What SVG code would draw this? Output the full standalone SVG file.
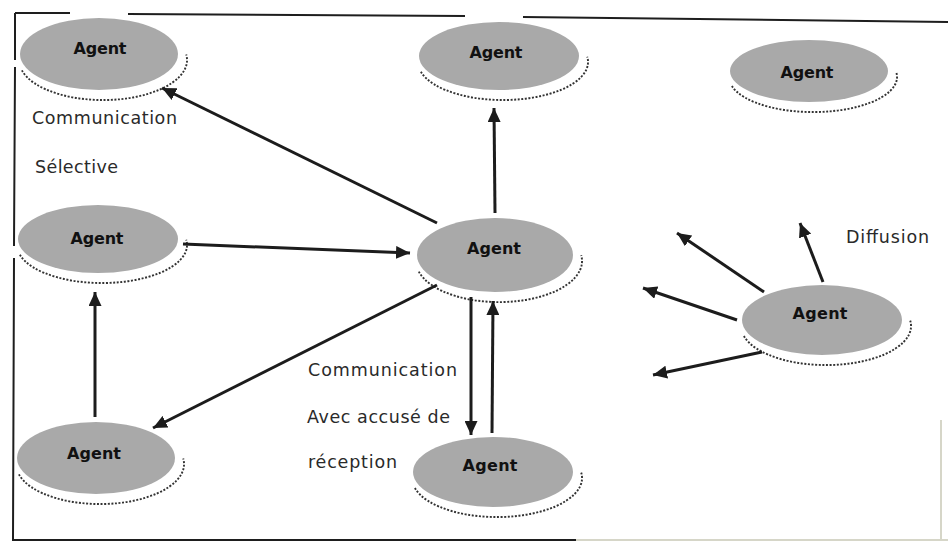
<svg xmlns="http://www.w3.org/2000/svg" width="948" height="546" viewBox="0 0 948 546">
  <style>
    .frame { stroke: #1e1e1e; stroke-width: 2; fill: none; }
    .frame-faint { stroke: #d6d6c8; stroke-width: 2; fill: none; }
    .body { fill: #a9a9a9; }
    .shadow { fill: none; stroke: #333; stroke-width: 1.9; stroke-dasharray: 2 1.6; }
    .name { font-family: "DejaVu Sans", "Liberation Sans", sans-serif; font-size: 16px; font-weight: bold; fill: #111; text-anchor: middle; }
    .label { font-family: "DejaVu Sans", "Liberation Sans", sans-serif; font-size: 17.5px; fill: #2a2a2a; }
    .link { stroke: #1c1c1c; stroke-width: 3; fill: none; marker-end: url(#head); }
  </style>
  <defs>
    <marker id="head" markerUnits="userSpaceOnUse" markerWidth="15" markerHeight="13" refX="14" refY="6.5" orient="auto">
      <path d="M0,0 L14,6.5 L0,13 Z" fill="#1c1c1c"/>
    </marker>
  </defs>

  <rect width="948" height="546" fill="#ffffff"/>

  <!-- outer frame, broken where shapes cross it -->
  <g id="frame">
    <path class="frame" d="M15,13 L70,13 M128,14 L465,16 M523,17 L948,22"/>
    <path class="frame" d="M15,13 L15,60 M15,67 L14,246 M14,258 L13,540 L576,540"/>
    <path class="frame-faint" d="M576,540 L948,540 M941,420 L941,540"/>
  </g>

  <!-- agents -->
  <g id="agent-top-left" transform="translate(99,54)">
    <path class="shadow" d="M-77.1,16.4 A84,40 0 0 0 87.2,0.4"/>
    <ellipse class="body" rx="79" ry="36"/>
    <text class="name" x="1" y="0" textLength="53">Agent</text>
  </g>
  <g id="agent-top-center" transform="translate(499,56)">
    <path class="shadow" d="M-78.1,15.8 A85,38 0 0 0 88.2,0.7"/>
    <ellipse class="body" rx="80" ry="34"/>
    <text class="name" x="-3" y="2" textLength="53">Agent</text>
  </g>
  <g id="agent-top-right" transform="translate(809,71)">
    <path class="shadow" d="M-77.1,15.1 A84,35 0 0 0 87.2,1.1"/>
    <ellipse class="body" rx="79" ry="31"/>
    <text class="name" x="-2" y="7" textLength="53">Agent</text>
  </g>
  <g id="agent-mid-left" transform="translate(98,239)">
    <path class="shadow" d="M-78.1,15.8 A85,38 0 0 0 88.2,0.7"/>
    <ellipse class="body" rx="80" ry="34"/>
    <text class="name" x="-1" y="5" textLength="53">Agent</text>
  </g>
  <g id="agent-center" transform="translate(495,255)">
    <path class="shadow" d="M-76.2,16.6 A83,41 0 0 0 86.2,0.3"/>
    <ellipse class="body" rx="78" ry="37"/>
    <text class="name" x="-1" y="-1" textLength="54">Agent</text>
  </g>
  <g id="agent-right" transform="translate(822,320)">
    <path class="shadow" d="M-78.1,16.1 A85,39 0 0 0 88.2,0.6"/>
    <ellipse class="body" rx="80" ry="35"/>
    <text class="name" x="-2" y="-1" textLength="55">Agent</text>
  </g>
  <g id="agent-bottom-left" transform="translate(96,458)">
    <path class="shadow" d="M-77.1,16.4 A84,40 0 0 0 87.2,0.4"/>
    <ellipse class="body" rx="79" ry="36"/>
    <text class="name" x="-2" y="1" textLength="54">Agent</text>
  </g>
  <g id="agent-bottom-center" transform="translate(493,472)">
    <path class="shadow" d="M-78.1,16.1 A85,39 0 0 0 88.2,0.6"/>
    <ellipse class="body" rx="80" ry="35"/>
    <text class="name" x="-3" y="-1" textLength="55">Agent</text>
  </g>

  <!-- connectors -->
  <g id="connectors">
    <line class="link" x1="437" y1="223" x2="162" y2="88"/>
    <line class="link" x1="495" y1="213" x2="494" y2="108"/>
    <line class="link" x1="183" y1="244" x2="410" y2="253"/>
    <line class="link" x1="437" y1="285" x2="153" y2="428"/>
    <line class="link" x1="95" y1="417" x2="95" y2="292"/>
    <line class="link" x1="471" y1="297" x2="471" y2="435"/>
    <line class="link" x1="492" y1="433" x2="493" y2="301"/>
    <line class="link" x1="764" y1="292" x2="677" y2="233"/>
    <line class="link" x1="737" y1="320" x2="643" y2="288"/>
    <line class="link" x1="762" y1="352" x2="653" y2="375"/>
    <line class="link" x1="823" y1="282" x2="800" y2="223"/>
  </g>

  <!-- labels -->
  <g id="labels">
    <text class="label" x="32" y="124" textLength="145">Communication</text>
    <text class="label" x="35" y="173" textLength="83">Sélective</text>
    <text class="label" x="308" y="376" textLength="149">Communication</text>
    <text class="label" x="307" y="423" textLength="143">Avec accusé de</text>
    <text class="label" x="308" y="468" textLength="89">réception</text>
    <text class="label" x="846" y="243" textLength="83">Diffusion</text>
  </g>
</svg>
